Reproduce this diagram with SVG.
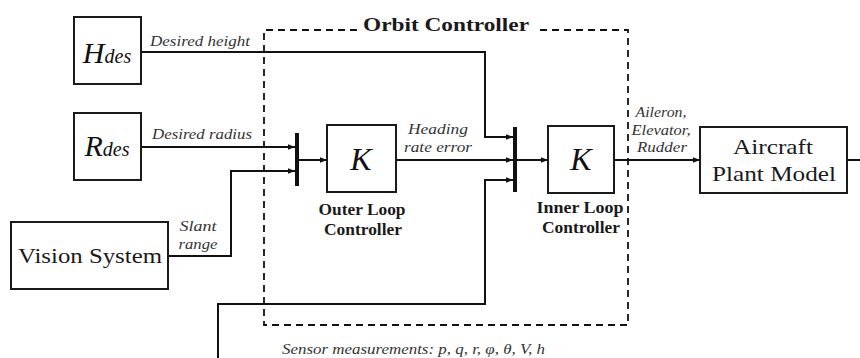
<svg xmlns="http://www.w3.org/2000/svg" width="860" height="358" viewBox="0 0 860 358">
<defs>
<marker id="arr" viewBox="0 0 10 10" refX="10" refY="5" markerWidth="7" markerHeight="7" markerUnits="userSpaceOnUse" orient="auto">
<path d="M0,1 L10,5 L0,9 z" fill="#111"/>
</marker>
<style>
.box{fill:#fff;stroke:#1a1a1a;stroke-width:2}
.bar{stroke:#111;stroke-width:4}
.ln{fill:none;stroke:#111;stroke-width:2}
.dash{fill:none;stroke:#111;stroke-width:1.8;stroke-dasharray:7,5}
.lbl{font-family:"Liberation Serif","DejaVu Serif",serif;font-style:italic;font-size:14px;fill:#333}
.big{font-family:"Liberation Serif","DejaVu Serif",serif;font-size:22px;fill:#1a1a1a}
.bold{font-family:"Liberation Serif","DejaVu Serif",serif;font-weight:bold;font-size:16px;fill:#1a1a1a}
.math{font-family:"Liberation Serif","DejaVu Serif",serif;font-style:italic;fill:#111}
</style>
</defs>
<rect width="860" height="358" fill="#fff"/>
<g id="orbit-controller">
<path class="dash" d="M357,30 H264 V325 H628 V30 H537"/>
<text x="446" y="31" text-anchor="middle" class="bold" style="font-size:19px" textLength="166" lengthAdjust="spacingAndGlyphs">Orbit Controller</text>
</g>
<g id="connectors">
<path class="ln" d="M142,52 H485 V137 H513" marker-end="url(#arr)"/>
<text x="150" y="46" class="lbl" textLength="100" lengthAdjust="spacingAndGlyphs">Desired height</text>
<path class="ln" d="M142,147 H295" marker-end="url(#arr)"/>
<text x="152" y="139" class="lbl" textLength="100" lengthAdjust="spacingAndGlyphs">Desired radius</text>
<path class="ln" d="M168,256 H231 V171 H295" marker-end="url(#arr)"/>
<text x="198" y="231" text-anchor="middle" class="lbl" textLength="37" lengthAdjust="spacingAndGlyphs">Slant</text>
<text x="198" y="249" text-anchor="middle" class="lbl" textLength="39" lengthAdjust="spacingAndGlyphs">range</text>
<path class="ln" d="M299,160 H327" marker-end="url(#arr)"/>
<path class="ln" d="M396,160 H513" marker-end="url(#arr)"/>
<text x="438" y="134" text-anchor="middle" class="lbl" textLength="60" lengthAdjust="spacingAndGlyphs">Heading</text>
<text x="438" y="152" text-anchor="middle" class="lbl" textLength="68" lengthAdjust="spacingAndGlyphs">rate error</text>
<path class="ln" d="M218,358 V304 H485 V180 H513" marker-end="url(#arr)"/>
<text x="282" y="354" class="lbl" textLength="263" lengthAdjust="spacingAndGlyphs">Sensor measurements: p, q, r, φ, θ, V, h</text>
<path class="ln" d="M517,160 H548" marker-end="url(#arr)"/>
<path class="ln" d="M614,160 H700" marker-end="url(#arr)"/>
<text x="661" y="117" text-anchor="middle" class="lbl" textLength="51" lengthAdjust="spacingAndGlyphs">Aileron,</text>
<text x="661" y="135" text-anchor="middle" class="lbl" textLength="59" lengthAdjust="spacingAndGlyphs">Elevator,</text>
<text x="662" y="152" text-anchor="middle" class="lbl" textLength="50" lengthAdjust="spacingAndGlyphs">Rudder</text>
<path class="ln" d="M847,160 H860"/>
</g>
<g id="H-des">
<rect class="box" x="74" y="17" width="67" height="67"/>
<text x="107" y="63" text-anchor="middle" class="math"><tspan font-size="30">H</tspan><tspan font-size="20">des</tspan></text>
</g>
<g id="R-des">
<rect class="box" x="74" y="113" width="67" height="67"/>
<text x="107" y="156" text-anchor="middle" class="math"><tspan font-size="30">R</tspan><tspan font-size="20">des</tspan></text>
</g>
<g id="vision-system">
<rect class="box" x="11" y="222" width="157" height="67"/>
<text x="90" y="263" text-anchor="middle" class="big" textLength="144" lengthAdjust="spacingAndGlyphs">Vision System</text>
</g>
<g id="sum-outer">
<line class="bar" x1="297" y1="133" x2="297" y2="186"/>
</g>
<g id="outer-loop">
<rect class="box" x="327" y="125" width="69" height="67"/>
<text x="361" y="170" text-anchor="middle" class="math" font-size="32">K</text>
<text x="362" y="215" text-anchor="middle" class="bold" textLength="87" lengthAdjust="spacingAndGlyphs">Outer Loop</text>
<text x="363" y="235" text-anchor="middle" class="bold" textLength="78" lengthAdjust="spacingAndGlyphs">Controller</text>
</g>
<g id="sum-inner">
<line class="bar" x1="515" y1="127" x2="515" y2="192"/>
</g>
<g id="inner-loop">
<rect class="box" x="548" y="126" width="66" height="67"/>
<text x="581" y="170" text-anchor="middle" class="math" font-size="32">K</text>
<text x="580" y="213" text-anchor="middle" class="bold" textLength="87" lengthAdjust="spacingAndGlyphs">Inner Loop</text>
<text x="581" y="233" text-anchor="middle" class="bold" textLength="78" lengthAdjust="spacingAndGlyphs">Controller</text>
</g>
<g id="aircraft-plant">
<rect class="box" x="700" y="127" width="147" height="66"/>
<text x="773" y="154" text-anchor="middle" class="big" textLength="80" lengthAdjust="spacingAndGlyphs">Aircraft</text>
<text x="774" y="181" text-anchor="middle" class="big" textLength="124" lengthAdjust="spacingAndGlyphs">Plant Model</text>
</g>
</svg>
